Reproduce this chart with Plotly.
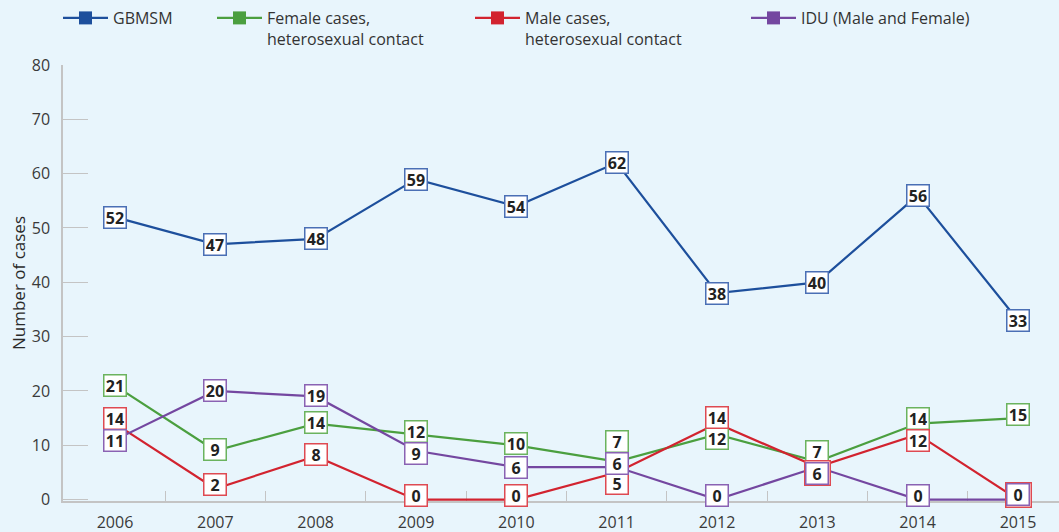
import plotly.graph_objects as go

years = [2006, 2007, 2008, 2009, 2010, 2011, 2012, 2013, 2014, 2015]
gbmsm = [52, 47, 48, 59, 54, 62, 38, 40, 56, 33]
female_het = [21, 9, 14, 12, 10, 7, 12, 7, 14, 15]
male_het = [14, 2, 8, 0, 0, 5, 14, 6, 12, 0]
idu = [11, 20, 19, 9, 6, 6, 0, 6, 0, 0]

series_names = ["GBMSM", "Female cases,<br>heterosexual contact",
                "Male cases,<br>heterosexual contact", "IDU (Male and Female)"]
y_ticks = [0, 10, 20, 30, 40, 50, 60, 70, 80]

# styling (pixel shifts of the value boxes, to avoid overlaps)
colors = ["#1d4f9c", "#4b9f3f", "#d2232f", "#7447a0"]
box_colors = ["#4a6fb5", "#6bb35e", "#de4a52", "#8a62b3"]
shift_gbmsm = [0] * 10
shift_female = [0, 1, 1, 3, 2, 20, -4, 10, 5, 4]
shift_male = [5, 4, 2, 4, 4, -11, 6, -6, -6, 5]
shift_idu = [-1, 0, 1, -3, 0, 4, 4, -6, 4, 5]

series = [gbmsm, female_het, male_het, idu]
shifts = [shift_gbmsm, shift_female, shift_male, shift_idu]

bg = "#e8f5fc"
font_family = "Open Sans"
fig = go.Figure()

for i, (vals, name) in enumerate(zip(series, series_names)):
    fig.add_trace(go.Scatter(x=years, y=vals, mode="lines",
                             line=dict(color=colors[i], width=2.2),
                             showlegend=False, hoverinfo="skip"))

legend_x = [58, 212, 470, 746]
for i, name in enumerate(series_names):
    lg = "legend" if i == 0 else f"legend{i+1}"
    fig.add_trace(go.Scatter(x=[None], y=[None], mode="lines+markers", name=name,
                             line=dict(color=colors[i], width=2.2),
                             marker=dict(symbol="square", size=13, color=colors[i]),
                             legend=lg, showlegend=True))

annotations = []
for i, vals in enumerate(series):
    for k, (yr, v) in enumerate(zip(years, vals)):
        overlap_outer = False
        if i == 2 and idu[k] == v and shift_idu[k] == shifts[i][k]:
            overlap_outer = True
        annotations.append(dict(
            x=yr, y=v, xref="x", yref="y", yshift=shifts[i][k],
            text=f"<b>{v}</b>", showarrow=False,
            font=dict(family=font_family, size=16, color="#222222"),
            bgcolor="white", bordercolor=box_colors[i],
            borderwidth=1.5, borderpad=2.5 if overlap_outer else 1,
            width=19, height=18, align="center", valign="middle"))

layout_legends = {}
for i in range(4):
    key = "legend" if i == 0 else f"legend{i+1}"
    layout_legends[key] = dict(
        x=legend_x[i] / 1059, y=1 - 1 / 532, xref="container", yref="container",
        xanchor="left", yanchor="top", orientation="h", bgcolor="rgba(0,0,0,0)",
        font=dict(family=font_family, size=16, color="#333333"),
        valign="top", itemwidth=45, tracegroupgap=0)

fig.update_layout(
    width=1059, height=532,
    margin=dict(l=63, r=0, t=65, b=30.64, pad=0, autoexpand=False),
    paper_bgcolor=bg, plot_bgcolor=bg,
    font=dict(family=font_family, size=15, color="#3a3a3a"),
    annotations=annotations,
    showlegend=True,
    **layout_legends,
)

fig.update_xaxes(
    range=[2006 - 52 / 100.333, 2015 + 41 / 100.333],
    tickmode="array", tickvals=years, ticktext=[str(y) for y in years],
    ticks="", showgrid=False, zeroline=False, automargin=False,
    showline=True, linecolor="#c4c4c4", linewidth=1.5,
    tickfont=dict(family=font_family, size=16, color="#3a3a3a"),
    ticklabelstandoff=6,
    minor=dict(tickmode="array", tickvals=[y + 0.5 for y in years[:-1]],
               ticks="inside", ticklen=10, tickcolor="#c4c4c4", tickwidth=1.2,
               showgrid=False),
    layer="below traces", fixedrange=True,
)
fig.update_yaxes(
    range=[-0.25, 80], tickmode="array", tickvals=y_ticks,
    ticks="inside", ticklen=25, tickcolor="#c4c4c4", tickwidth=1.2,
    showgrid=False, zeroline=False, automargin=False,
    showline=True, linecolor="#c4c4c4", linewidth=1.5,
    tickfont=dict(family=font_family, size=16, color="#3a3a3a"),
    ticklabelstandoff=8,
    title=dict(text="Number of cases", standoff=2,
               font=dict(family=font_family, size=17, color="#2a2a2a")),
    layer="below traces", fixedrange=True,
)

fig.write_html("out.html", config={"displayModeBar": False},
               post_script="document.body.style.margin='0';document.body.style.padding='0';")
